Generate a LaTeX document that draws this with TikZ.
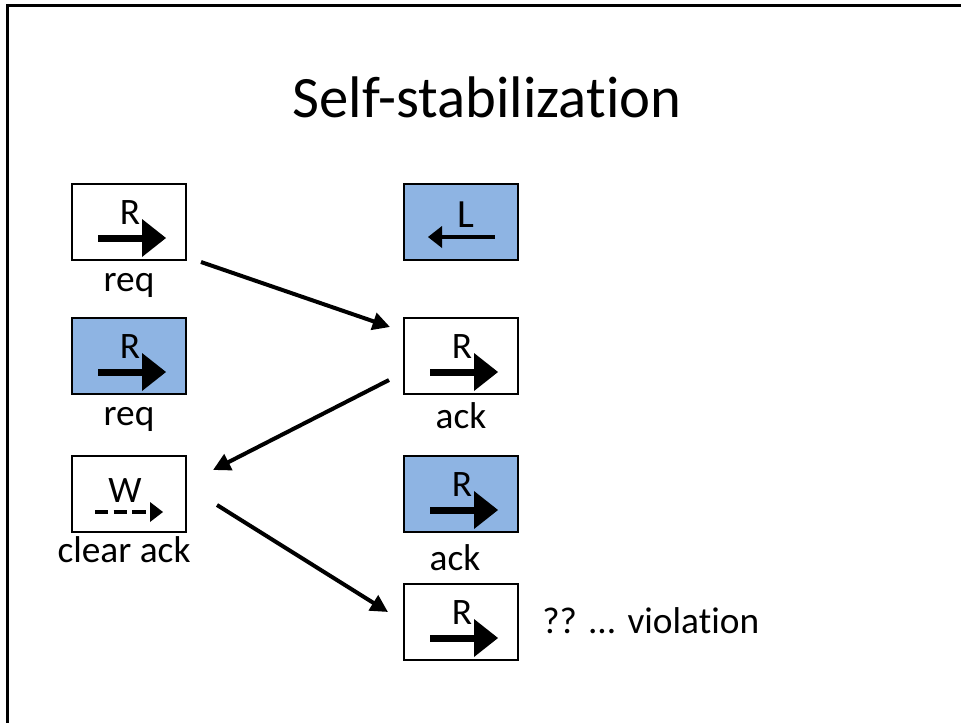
\documentclass[tikz,border=0pt]{standalone}
\usepackage{fontspec}
\setmainfont{Carlito}[Ligatures=NoCommon]
\usetikzlibrary{arrows.meta}
\definecolor{boxblue}{HTML}{8EB4E3}
\newcommand\RArr[1]{%
  \fill ([shift={(-31,12.5)}]#1.center) rectangle ([shift={(14,19.5)}]#1.center);
  \fill ([shift={(13,-3)}]#1.center) -- ([shift={(37,16)}]#1.center) -- ([shift={(13,35)}]#1.center) -- cycle;
  \node[letter] (#1-r) at ([shift={(1,2)}]#1.center) {R};}
\begin{document}
\begin{tikzpicture}[x=0.75pt,y=-0.75pt,
  box/.style={draw,line width=1.5pt,minimum width=85.5pt,minimum height=57pt,inner sep=0pt,outer sep=0pt,fill=white},
  bluebox/.style={box,fill=boxblue},
  letter/.style={anchor=base,inner sep=0pt,font=\fontsize{28}{30}\selectfont},
  lbl/.style={anchor=base,inner sep=0pt,font=\fontsize{28}{32}\selectfont},
  conn/.style={line width=3pt,-{Triangle[length=13pt,width=13pt]}}]
\useasboundingbox (0,0) rectangle (961,722);
% frame
\draw[line width=2.25pt] (7.5,730) -- (7.5,5.5) -- (970,5.5);
% title
\node[anchor=base,inner sep=0pt,font=\fontsize{44}{50}\selectfont] (title) at (487,117) {Self-stabilization};
% left column
\node[box] (a1) at (129,222) {};
\RArr{a1}
\node[lbl] (a1l) at (129,291) {req};
\node[bluebox] (a2) at (129,356) {};
\RArr{a2}
\node[lbl] (a2l) at (129,425) {req};
\node[box] (a3) at (129,494) {};
\draw[line width=3pt,dash pattern=on 10pt off 4pt] ([shift={(-34,18)}]a3.center) -- ([shift={(22,18)}]a3.center);
\fill ([shift={(21,8)}]a3.center) -- ([shift={(34,18)}]a3.center) -- ([shift={(21,28)}]a3.center) -- cycle;
\node[letter] (a3-w) at ([shift={(-4,8)}]a3.center) {W};
\node[lbl] (a3l) at (124,562) {clear ack};
% right column
\node[bluebox] (b1) at (461,222) {};
\draw[line width=3pt] ([shift={(-20,15)}]b1.center) -- ([shift={(34,15)}]b1.center);
\fill ([shift={(-19,4)}]b1.center) -- ([shift={(-33,15)}]b1.center) -- ([shift={(-19,26)}]b1.center) -- cycle;
\node[anchor=base,inner sep=0pt,font=\fontsize{30}{32}\selectfont] (b1-l) at ([shift={(5,5)}]b1.center) {L};
\node[box] (b2) at (461,356) {};
\RArr{b2}
\node[lbl] (b2l) at (461,428) {ack};
\node[bluebox] (b3) at (461,494) {};
\RArr{b3}
\node[lbl] (b3l) at (455,570) {ack};
\node[box] (b4) at (461,622) {};
\RArr{b4}
\node[lbl,anchor=base west] (viol) at (542,633) {?? ... violation};
% connectors
\draw[conn] ([shift={(15,2)}]a1.south east) -- ([shift={(-14,9)}]b2.north west);
\draw[conn] ([shift={(-15,-14)}]b2.south west) -- ([shift={(27,14)}]a3.north east);
\draw[conn] ([shift={(31,11)}]a3.east) -- ([shift={(-16,-10)}]b4.west);
\end{tikzpicture}
\end{document}
